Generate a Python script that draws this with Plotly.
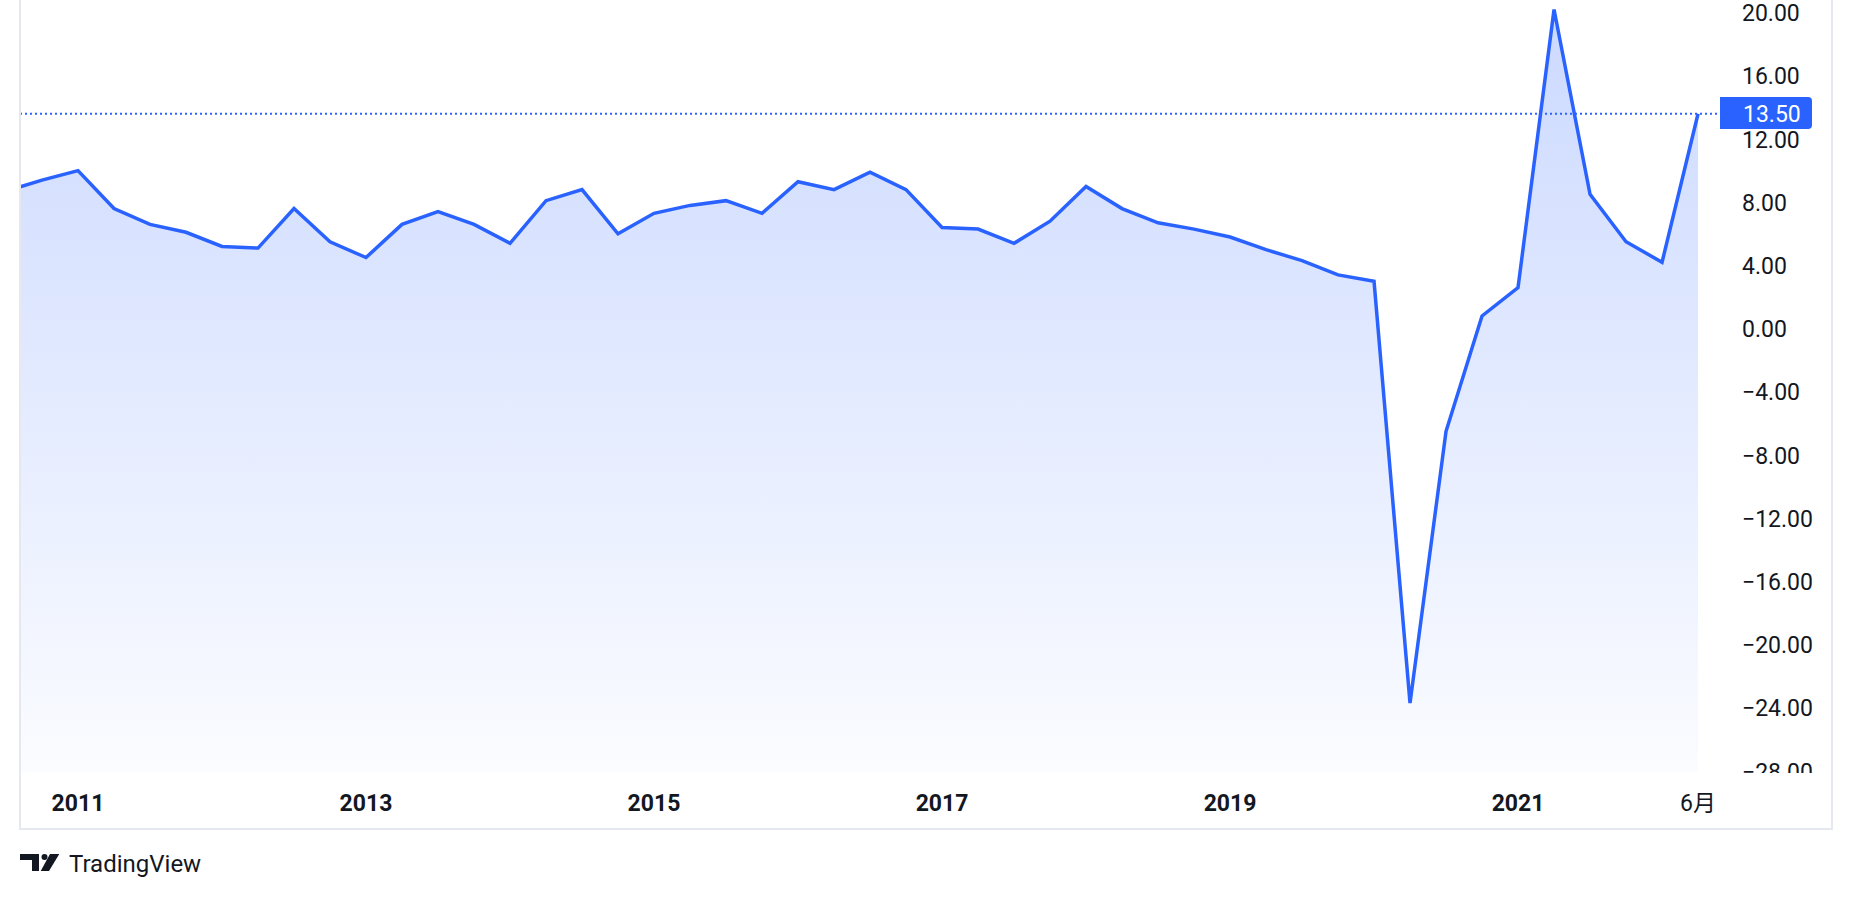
import plotly.graph_objects as go

# ---------------- data ----------------
quarters = (["2010-Q3", "2010-Q4"]
            + [f"{y}-Q{q}" for y in range(2011, 2022) for q in (1, 2, 3, 4)]
            + ["2022-Q1", "2022-Q2"])

gdp_yoy = [8.6, 9.3,
           9.9, 7.5, 6.5, 6.0,
           5.1, 5.0, 7.5, 5.4,
           4.4, 6.5, 7.3, 6.5,
           5.3, 8.0, 8.7, 5.9,
           7.2, 7.7, 8.0, 7.2,
           9.2, 8.7, 9.8, 8.7,
           6.3, 6.2, 5.3, 6.7,
           8.9, 7.5, 6.6, 6.2,
           5.7, 4.9, 4.2, 3.3,
           2.9, -23.8, -6.6, 0.7,
           2.5, 20.1, 8.4, 5.4,
           4.1, 13.5]

tick_quarters = ["2011-Q1", "2013-Q1", "2015-Q1", "2017-Q1", "2019-Q1", "2021-Q1", "2022-Q2"]
tick_labels = ["<b>2011</b>", "<b>2013</b>", "<b>2015</b>", "<b>2017</b>",
               "<b>2019</b>", "<b>2021</b>", "6月"]
price_ticks = [-28, -24, -20, -16, -12, -8, -4, 0, 4, 8, 12, 16, 20]
price_labels = [f"{v:.2f}".replace("-", "\u2212") for v in price_ticks]

# ---------------- geometry / style ----------------
W, H = 1852, 900
PL, PR, PT, PB = 20, 1720, 0, 772          # pane in pixels
Y_TOP, Y_BOT = 20.70, -28.16
X_LO, X_HI = -1.611, 45.61
BLUE = "#2962FF"
TXT = "#131722"
BORDER = "#E6E8F0"
FONT = "Roboto, 'Noto Sans CJK SC', sans-serif"
FS = 23

origin = quarters.index("2011-Q1")
xs = [i - origin for i in range(len(quarters))]
tickvals = [quarters.index(q) - origin for q in tick_quarters]


def px(xp):
    return (xp - PL) / (PR - PL)


def py(yp):
    return (PB - yp) / (PB - PT)


fig = go.Figure()
fig.add_trace(go.Scatter(x=xs, y=[Y_BOT] * len(xs), mode="lines",
                         line=dict(width=0), hoverinfo="skip", showlegend=False))
fig.add_trace(go.Scatter(
    x=xs, y=gdp_yoy, mode="lines",
    line=dict(color=BLUE, width=3.5),
    fill="tonexty",
    fillgradient=dict(type="vertical",
                      colorscale=[[0, "rgba(41,98,255,0.02)"], [1, "rgba(41,98,255,0.24)"]],
                      start=Y_BOT, stop=max(gdp_yoy)),
    showlegend=False, hoverinfo="skip"))

last = gdp_yoy[-1]

shapes = [
    # last-value dotted line
    dict(type="line", xref="paper", yref="y", x0=0, x1=1, y0=last, y1=last,
         line=dict(color=BLUE, width=2, dash="2px,3px")),
    # mask clipping bottom price label
    dict(type="rect", xref="paper", yref="paper", x0=px(1722), x1=px(1830),
         y0=py(773), y1=py(795), fillcolor="white", line=dict(width=0), layer="above"),
    # borders
    dict(type="line", xref="paper", yref="paper", x0=px(20), x1=px(20), y0=py(0), y1=py(830),
         line=dict(color=BORDER, width=2)),
    dict(type="line", xref="paper", yref="paper", x0=px(20), x1=px(1832), y0=py(829), y1=py(829),
         line=dict(color=BORDER, width=2)),
    dict(type="line", xref="paper", yref="paper", x0=px(1832), x1=px(1832), y0=py(0), y1=py(830),
         line=dict(color=BORDER, width=2)),
]

# last-value label box with rounded right corners
bx0, bx1 = px(1720), px(1812)
by0, by1 = py(129), py(97)
rx, ry = 4 / (PR - PL), 4 / (PB - PT)
shapes.append(dict(
    type="path", xref="paper", yref="paper", layer="above",
    path=(f"M {bx0},{by0} L {bx1 - rx},{by0} Q {bx1},{by0} {bx1},{by0 + ry} "
          f"L {bx1},{by1 - ry} Q {bx1},{by1} {bx1 - rx},{by1} L {bx0},{by1} Z"),
    fillcolor=BLUE, line=dict(width=0)))


# TradingView logo mark
def path(points):
    return "M " + " L ".join(f"{px(a)},{py(b)}" for a, b in points) + " Z"


shapes.append(dict(type="path", xref="paper", yref="paper",
                   path=path([(20, 854), (39, 854), (39, 871), (32, 871), (32, 860), (20, 860)]),
                   fillcolor=TXT, line=dict(width=0)))
shapes.append(dict(type="circle", xref="paper", yref="paper",
                   x0=px(41.5), x1=px(47.5), y0=py(860), y1=py(854),
                   fillcolor=TXT, line=dict(width=0)))
shapes.append(dict(type="path", xref="paper", yref="paper",
                   path=path([(50, 854), (59.3, 854), (49, 871), (40.7, 871)]),
                   fillcolor=TXT, line=dict(width=0)))

annotations = [
    dict(xref="paper", yref="y", x=px(1741), y=last, text=f"{last:.2f}",
         xanchor="left", yanchor="middle", showarrow=False, yshift=-1,
         font=dict(family=FONT, size=FS, color="white")),
    dict(xref="paper", yref="paper", x=px(67), y=py(864), text="TradingView",
         xanchor="left", yanchor="middle", showarrow=False,
         font=dict(family=FONT, size=24, color=TXT)),
]

fig.update_layout(
    width=W, height=H,
    margin=dict(l=PL, r=W - PR, t=PT, b=H - PB, pad=0),
    paper_bgcolor="white", plot_bgcolor="white",
    template="none",
    hovermode=False,
    xaxis=dict(range=[X_LO, X_HI], tickvals=tickvals, ticktext=tick_labels,
               showgrid=False, zeroline=False, showline=False, ticks="",
               ticklabelstandoff=15, automargin=False,
               tickfont=dict(family=FONT, size=FS, color=TXT)),
    yaxis=dict(range=[Y_BOT, Y_TOP], side="right", tickvals=price_ticks, ticktext=price_labels,
               showgrid=False, zeroline=False, showline=False, ticks="",
               ticklabelstandoff=21, ticklabelshift=2, automargin=False,
               ticklabeloverflow="allow",
               tickfont=dict(family=FONT, size=FS, color=TXT)),
    shapes=shapes,
    annotations=annotations,
)

fig.write_html("out.html", config={"displayModeBar": False},
               post_script="document.body.style.margin='0';document.body.style.overflow='hidden';")
